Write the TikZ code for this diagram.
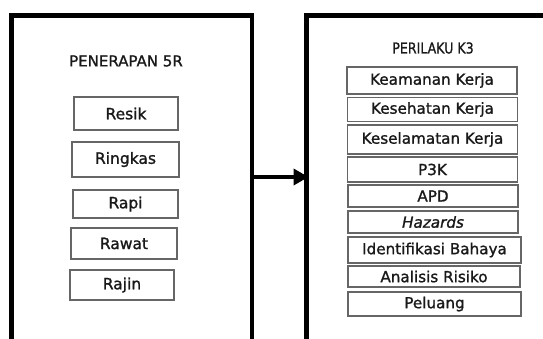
\documentclass[tikz,border=0pt]{standalone}
\usepackage{fontspec}
\setmainfont[FakeBold=1.2,AutoFakeBold=1.2]{DejaVu Sans}
\usetikzlibrary{arrows.meta}
\begin{document}
\begin{tikzpicture}[x=1pt,y=-1pt,
  outer/.style={line width=4.2pt,black,line join=miter},
  item/.style={draw=black!60,line width=1.3pt,fill=white,text=black!90,inner sep=0pt,anchor=center},
  litem/.style={item,font=\fontsize{15.5}{16}\selectfont\bfseries},
  ritem/.style={item,font=\fontsize{15.2}{16}\selectfont\bfseries,minimum width=170pt},
  ttl/.style={text=black!90,inner sep=0pt,font=\fontsize{15}{16}\selectfont},
  link/.style={line width=4.2pt,-{Triangle[length=15pt,width=16pt]},shorten >=-2pt}]
\useasboundingbox (0,0) rectangle (543,338);
\clip (0,0) rectangle (543,338);
% outer frames
\draw[outer] (11.5,350) -- (11.5,15.5) -- (252,15.5) -- (252,350);
\draw[outer] (306.5,350) -- (306.5,15.5) -- (560,15.5);
% titles
\node[ttl] (t1) at (126,61) {\scalebox{1.0}[1]{PENERAPAN 5R}};
\node[ttl] (t2) at (433,48) {\scalebox{0.84}[1]{PERILAKU K3}};
% left items
\node[litem,minimum width=104pt,minimum height=33pt] (l1) at (126,113.5) {Resik};
\node[litem,minimum width=107pt,minimum height=35pt] (l2) at (125.5,159.5) {Ringkas};
\node[litem,minimum width=105pt,minimum height=28pt] (l3) at (125.5,204) {Rapi};
\node[litem,minimum width=106pt,minimum height=31pt] (l4) at (124,243.5) {Rawat};
\node[litem,minimum width=104pt,minimum height=30pt] (l5) at (122,285) {Rajin};
% right items
\node[ritem,minimum height=27pt] (r1) at (432,80.5) {Keamanan Kerja};
\node[ritem,minimum height=24pt] (r2) at (432.5,109.5) {Kesehatan Kerja};
\node[ritem,minimum height=29pt] (r3) at (432.5,139.5) {Keselamatan Kerja};
\node[ritem,minimum height=25pt] (r4) at (432.5,169.5) {P3K};
\node[ritem,minimum height=22pt] (r5) at (433,196) {APD};
\node[ritem,minimum height=22pt] (r6) at (433,222) {\itshape Hazards};
\node[ritem,minimum height=26pt,minimum width=173pt] (r7) at (434.5,250) {Identifikasi Bahaya};
\node[ritem,minimum height=21pt,minimum width=172pt] (r8) at (434,276.5) {Analisis Risiko};
\node[ritem,minimum height=24pt,minimum width=173pt] (r9) at (434.5,304) {Peluang};
% connector
\coordinate (aL) at (252,177);
\coordinate (aR) at (306.5,177);
\draw[link] (aL) -- (aR);
\end{tikzpicture}
\end{document}
